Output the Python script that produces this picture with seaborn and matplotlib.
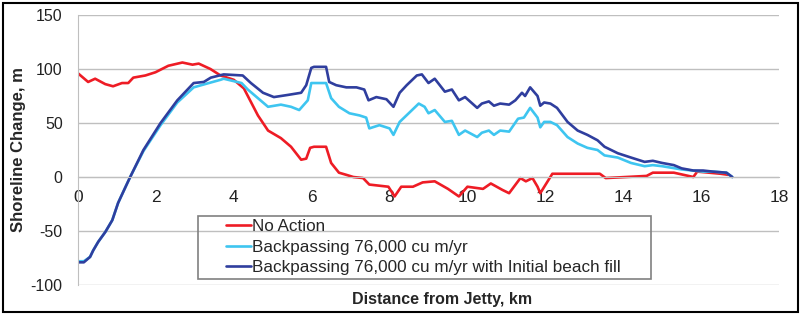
import numpy as np
import pandas as pd
import matplotlib.pyplot as plt
import seaborn as sns
from matplotlib.patches import Rectangle

# --- data (km from jetty, shoreline change in m) ---
red_x = [0, 0.26, 0.44, 0.7, 0.9, 1.13, 1.29, 1.42, 1.73, 1.99, 2.32, 2.68, 2.94, 3.1,
         3.4, 3.66, 4.0, 4.26, 4.62, 4.88, 5.21, 5.47, 5.73, 5.86, 5.96, 6.06, 6.37, 6.5,
         6.7, 6.89, 7.07, 7.32, 7.48, 7.97, 8.13, 8.3, 8.6, 8.85, 9.16, 9.5, 9.78, 10.0,
         10.4, 10.6, 10.9, 11.07, 11.36, 11.5, 11.67, 11.8, 11.87, 12.18, 13.4, 13.55,
         14.6, 14.76, 15.3, 15.8, 15.9, 16.2, 16.5, 16.7]
red_y = [96, 88, 91, 86, 84, 87, 87, 92, 94, 97, 103, 106, 104, 105,
         100, 94, 90, 82, 57, 43, 36, 28, 16, 17, 27, 28, 28, 13,
         4, 2, 0, -1, -7, -9, -18, -9, -9, -5, -4, -11, -18, -9,
         -11, -6, -12, -15, -1, -4, -1, -9, -15, 3, 3, -1,
         1, 4, 4, 0, 5, 4, 3, 2]

cyan_x = [0, 0.15, 0.31, 0.39, 0.52, 0.7, 0.88, 1.03, 1.21, 1.34, 1.68, 2.12, 2.55, 2.97,
          3.36, 3.66, 3.74, 4.2, 4.36, 4.62, 4.88, 5.21, 5.47, 5.68, 5.9, 5.99, 6.37, 6.5,
          6.7, 6.97, 7.23, 7.4, 7.48, 7.74, 8.0, 8.1, 8.26, 8.52, 8.75, 8.9, 9.0, 9.16,
          9.42, 9.6, 9.78, 9.94, 10.25, 10.37, 10.55, 10.68, 10.84, 11.07, 11.3, 11.45,
          11.61, 11.8, 11.87, 11.97, 12.13, 12.3, 12.57, 12.83, 13.08, 13.34, 13.52, 13.86,
          14.2, 14.55, 14.76, 15.0, 15.5, 16.05, 16.3, 16.65, 16.8]
cyan_y = [-78, -78, -74, -68, -60, -51, -40, -24, -10, 0, 24, 48, 69, 83,
          87, 90, 91, 87, 81, 73, 65, 67, 65, 62, 71, 87, 87, 73,
          65, 59, 57, 55, 45, 48, 45, 39, 51, 60, 68, 65, 59, 62,
          51, 52, 39, 43, 37, 41, 43, 39, 43, 42, 54, 55,
          64, 55, 46, 51, 51, 48, 37, 31, 27, 25, 20, 18,
          13, 10, 11, 10, 7, 5, 5, 4, 0]

blue_x = [0, 0.15, 0.31, 0.39, 0.52, 0.7, 0.88, 1.03, 1.21, 1.34, 1.68, 2.12, 2.55, 2.97,
          3.23, 3.41, 3.74, 4.23, 4.44, 4.75, 5.03, 5.39, 5.73, 5.86, 5.99, 6.06, 6.37, 6.45,
          6.63, 6.89, 7.15, 7.35, 7.46, 7.66, 7.92, 8.1, 8.26, 8.44, 8.7, 8.83, 9.0, 9.16,
          9.42, 9.6, 9.78, 9.94, 10.25, 10.37, 10.55, 10.68, 10.84, 11.07, 11.23, 11.4,
          11.48, 11.61, 11.8, 11.87, 11.97, 12.13, 12.3, 12.57, 12.83, 13.08, 13.34, 13.52,
          13.86, 14.2, 14.55, 14.76, 15.0, 15.3, 15.5, 15.8, 16.05, 16.3, 16.65, 16.8]
blue_y = [-79, -79, -74, -68, -60, -51, -40, -24, -10, 0, 25, 50, 71, 87,
          88, 92, 95, 94, 87, 78, 74, 76, 78, 85, 101, 102, 102, 88,
          85, 83, 83, 81, 71, 74, 72, 65, 78, 85, 94, 95, 87, 91,
          79, 81, 71, 74, 64, 68, 70, 66, 68, 67, 71, 78,
          75, 83, 75, 66, 69, 68, 64, 51, 43, 39, 34, 28,
          22, 18, 14, 15, 13, 11, 8, 6, 6, 5, 4, 0]

SERIES = ["No Action",
          "Backpassing 76,000 cu m/yr",
          "Backpassing 76,000 cu m/yr with Initial beach fill"]
COLORS = ["#EE1C25", "#3EC5F0", "#2F3E9E"]
X_TICKS = list(range(0, 19, 2))
Y_TICKS = list(range(-100, 151, 50))

df = pd.concat([
    pd.DataFrame({"km": red_x, "m": red_y, "series": SERIES[0]}),
    pd.DataFrame({"km": cyan_x, "m": cyan_y, "series": SERIES[1]}),
    pd.DataFrame({"km": blue_x, "m": blue_y, "series": SERIES[2]}),
], ignore_index=True)

sns.set_style("white")
plt.rcParams['font.family'] = ['Liberation Sans', 'DejaVu Sans']
plt.rcParams['axes.unicode_minus'] = False

fig = plt.figure(figsize=(8.02, 3.14), dpi=100)
ax = fig.add_axes([78 / 802, 1 - 285 / 314, 701 / 802, 270 / 314])

sns.lineplot(data=df, x="km", y="m", hue="series", hue_order=SERIES,
             palette=COLORS, estimator=None, sort=False, lw=1.9, ax=ax, legend=True)

ax.set_xlim(0, 18)
ax.set_ylim(-100, 150)
ax.set_xticks(X_TICKS)
ax.set_yticks(Y_TICKS)
ax.yaxis.grid(True, color="#BFBFBF", lw=1)
ax.xaxis.grid(False)
ax.set_axisbelow(True)

for s in ["top", "right"]:
    ax.spines[s].set_visible(False)
ax.spines["left"].set_color("#BFBFBF")
ax.spines["bottom"].set_color("#BFBFBF")
ax.spines["bottom"].set_position(("data", 0))

ax.tick_params(axis="x", length=0, labelsize=12.5, pad=9, colors="#222222")
ax.tick_params(axis="y", length=0, labelsize=11.5, pad=11, colors="#222222")

ax.set_ylabel("Shoreline Change, m", fontsize=12, fontweight="bold")
ax.yaxis.set_label_coords(-0.074, 0.5)
ax.set_xlabel("Distance from Jetty, km", fontsize=11.5, fontweight="bold")
ax.xaxis.set_label_coords(0.52, -0.025)

handles, labels = ax.get_legend_handles_labels()
ax.legend(handles, labels, loc="upper left", frameon=False,
          bbox_to_anchor=(226 / 802, 1 - 219 / 314), bbox_transform=fig.transFigure,
          borderpad=0, borderaxespad=0, handlelength=1.45, handletextpad=0.08,
          labelspacing=0.33, fontsize=12.3)

# legend frame and outer border
fig.add_artist(Rectangle((198 / 802, 1 - 279 / 314), 453 / 802, 63 / 314,
                         transform=fig.transFigure, fill=False, ec="#808080", lw=1.2))
fig.add_artist(Rectangle((3 / 802, 2 / 314), 795 / 802, 309 / 314,
                         transform=fig.transFigure, fill=False, ec="black", lw=1.5))

fig.savefig("out.png", dpi=100)
